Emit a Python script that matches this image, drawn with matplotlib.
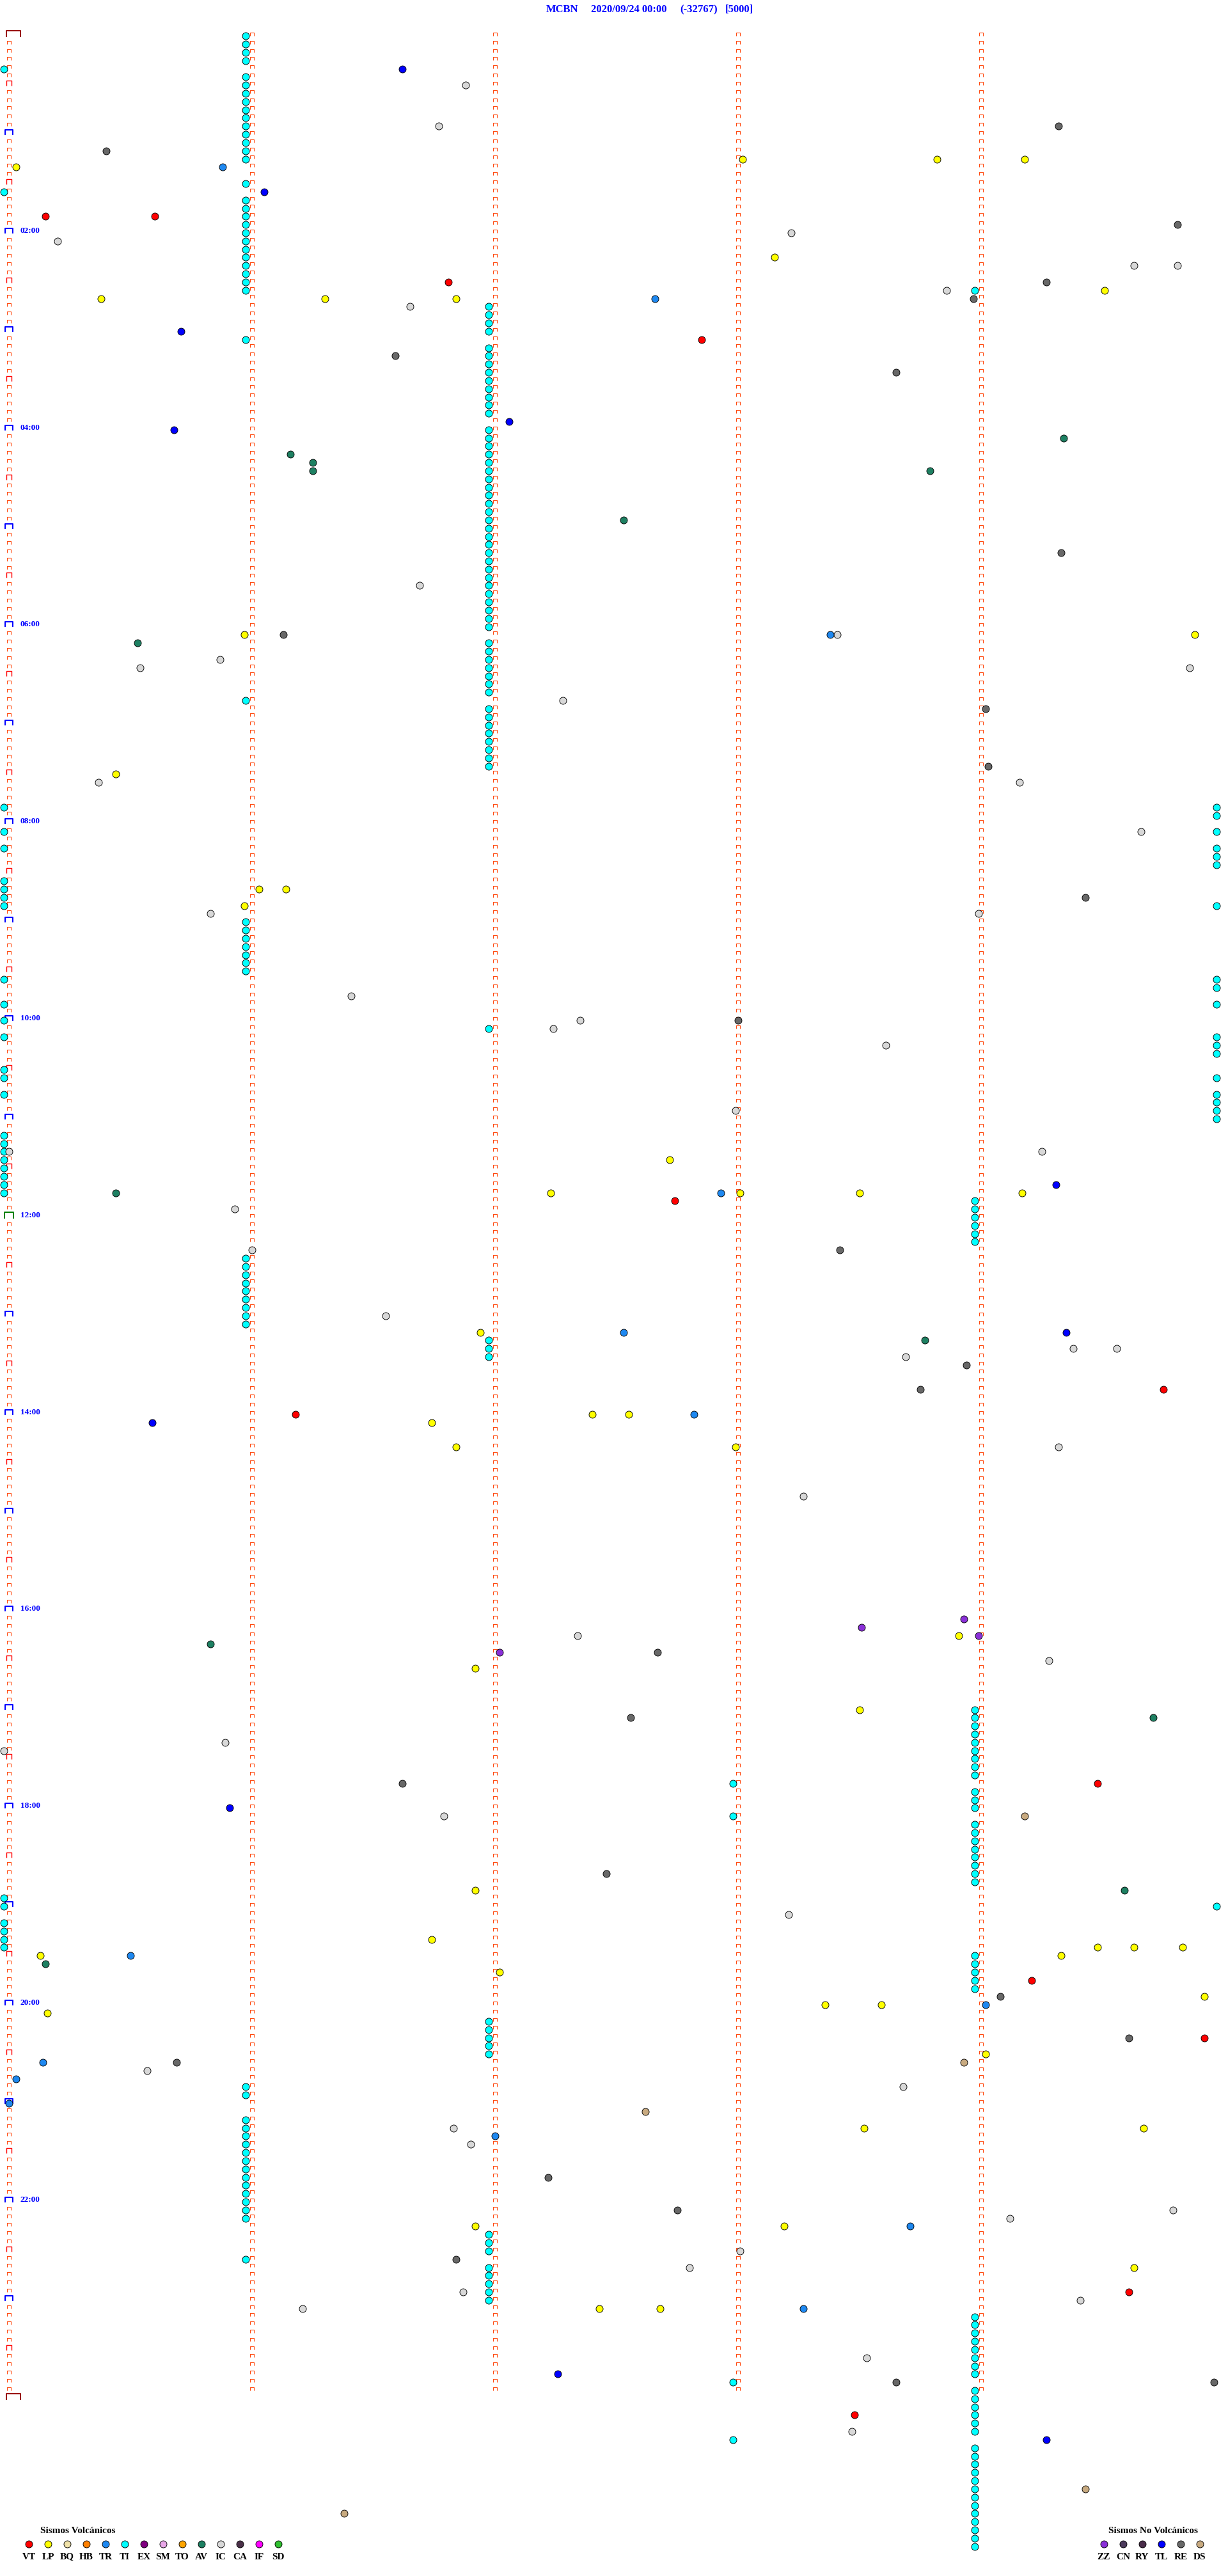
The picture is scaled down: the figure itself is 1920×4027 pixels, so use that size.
""" Daily event drum (5-minute lines) for station MCBN. """

import matplotlib
matplotlib.use("Agg")
from matplotlib import pyplot as plt
from matplotlib.path import Path

# ---------------------------------------------------------------- header
STATION = "MCBN"
DATE = "2020/09/24 00:00"
CLIP = "(-32767)"
GAIN = "[5000]"

N_LINES = 288          # 24 h of 5-minute lines
LINE_MIN = 5
HOUR_LABELS = ["02:00", "04:00", "06:00", "08:00", "10:00", "12:00",
               "14:00", "16:00", "18:00", "20:00", "22:00"]

# ---------------------------------------------------------------- legend
VOLC_CODES = ["VT", "LP", "BQ", "HB", "TR", "TI", "EX", "SM", "TO", "AV",
              "IC", "CA", "IF", "SD"]
VOLC_COLORS = ["#ff0000", "#ffff00", "#f0e2a8", "#ff8000", "#1e88f0",
               "#00ffff", "#800080", "#e8a8e8", "#ffa500", "#1e8062",
               "#d8d8d8", "#4a3048", "#ff00ff", "#30c030"]
NOVOLC_CODES = ["ZZ", "CN", "RY", "TL", "RE", "DS"]
NOVOLC_COLORS = ["#8a30d8", "#4c3a5c", "#4a2d4a", "#0000ff", "#686868",
                 "#c8aa80"]

# ---------------------------------------------------------------- events
# (line index, minute within the 5-minute line)
VT = [(22, 0.17), (22, 0.62), (30, 1.83), (37, 2.87), (142, 2.76),
      (165, 4.77), (168, 1.20), (213, 4.50), (237, 4.23), (244, 4.94),
      (275, 4.63), (290, 3.50)]

LP = [(15, 3.04), (15, 3.84), (15, 4.20), (16, 0.05), (27, 3.17),
      (31, 4.53), (32, 0.40), (32, 1.32), (32, 1.86), (73, 0.99),
      (73, 4.90), (90, 0.46), (104, 1.05), (104, 1.16), (106, 0.99),
      (137, 2.74), (141, 2.25), (141, 3.03), (141, 3.52), (141, 4.19),
      (158, 1.96), (168, 2.42), (168, 2.57), (169, 1.76), (172, 1.86),
      (172, 3.01), (195, 3.93), (199, 1.94), (204, 3.52), (226, 1.94),
      (232, 1.76), (233, 4.50), (233, 4.65), (233, 4.85), (234, 0.15),
      (234, 4.35), (236, 2.04), (239, 4.94), (240, 3.38), (240, 3.61),
      (241, 0.18), (246, 4.04), (255, 3.54), (255, 4.69), (267, 1.94),
      (267, 3.21), (272, 4.65), (277, 2.45), (277, 2.70)]

TR = [(16, 0.90), (32, 2.68), (73, 3.40), (141, 2.95), (158, 2.55),
      (168, 2.84), (234, 0.52), (240, 4.04), (247, 0.16), (249, 0.05),
      (252, 0.02), (256, 2.02), (267, 3.73), (277, 3.29)]

# TI tremor, listed as lines per minute mark
TI_M0 = [4, 19, 94, 97, 99, 103, 104, 105, 106, 115, 118, 120, 122, 126,
         127, 129, 134, 135, 136, 137, 138, 139, 140, 141, 227, 228, 230,
         231, 232, 233]
TI_M1 = [0, 1, 2, 3, 5, 6, 7, 8, 9, 10, 11, 12, 13, 14, 15, 18, 20, 21, 22,
         23, 24, 25, 26, 27, 28, 29, 30, 31, 37, 81, 108, 109, 110, 111,
         112, 113, 114, 149, 150, 151, 152, 153, 154, 155, 156, 157, 250,
         251, 254, 255, 256, 257, 258, 259, 260, 261, 262, 263, 264, 265,
         266, 271]
TI_M2 = [33, 34, 35, 36, 38, 39, 40, 41, 42, 43, 44, 45, 46, 48, 49, 50, 51,
         52, 53, 54, 55, 56, 57, 58, 59, 60, 61, 62, 63, 64, 65, 66, 67, 68,
         69, 70, 71, 72, 74, 75, 76, 77, 78, 79, 80, 82, 83, 84, 85, 86, 87,
         88, 89, 121, 159, 160, 161, 242, 243, 244, 245, 246, 268, 269, 270,
         272, 273, 274, 275, 276]
TI_M3 = [213, 217, 286, 293]
TI_M4 = [31, 142, 143, 144, 145, 146, 147, 204, 205, 206, 207, 208, 209,
         210, 211, 212, 214, 215, 216, 218, 219, 220, 221, 222, 223, 224,
         225, 234, 235, 236, 237, 238, 278, 279, 280, 281, 282, 283, 284,
         285, 287, 288, 289, 290, 291, 292, 294, 295, 296, 297, 298, 299,
         300, 301, 302, 303, 304, 305, 306]
TI_M5 = [94, 95, 97, 99, 100, 101, 106, 115, 116, 118, 122, 123, 124, 127,
         129, 130, 131, 132, 228]

AV = [(49, 4.36), (51, 1.18), (52, 1.27), (53, 1.27), (53, 3.81),
      (59, 2.55), (74, 0.55), (141, 0.46), (159, 3.79), (196, 0.85),
      (205, 4.73), (226, 4.61), (235, 0.17)]

IC = [(6, 1.90), (11, 1.79), (24, 3.24), (25, 0.22), (28, 4.65),
      (28, 4.83), (31, 3.88), (33, 1.67), (67, 1.71), (73, 3.43),
      (76, 0.89), (77, 0.56), (77, 4.88), (81, 2.30), (91, 0.39),
      (91, 4.18), (97, 4.68), (107, 0.85), (107, 4.01), (117, 1.43),
      (120, 2.37), (121, 2.26), (123, 3.63), (131, 3.01), (136, 0.02),
      (136, 4.27), (143, 0.95), (148, 1.02), (156, 1.57), (160, 4.40),
      (160, 4.58), (161, 3.71), (172, 4.34), (178, 3.29), (195, 2.36),
      (198, 4.30), (208, 0.91), (209, 0.00), (217, 1.81), (229, 3.23),
      (248, 0.59), (250, 3.70), (255, 1.85), (257, 1.92), (265, 4.81),
      (266, 4.14), (270, 3.03), (272, 2.82), (275, 1.89), (276, 4.43),
      (277, 1.23), (283, 3.55), (292, 3.49)]

RE = [(11, 4.34), (14, 0.42), (23, 4.83), (30, 4.29), (32, 3.99),
      (39, 1.61), (41, 3.67), (63, 4.35), (73, 1.15), (82, 4.04),
      (89, 4.05), (105, 4.45), (120, 3.02), (148, 3.44), (162, 3.96),
      (165, 3.77), (197, 2.69), (205, 2.58), (213, 1.64), (224, 2.48),
      (239, 4.10), (244, 4.63), (247, 0.71), (261, 2.24), (265, 2.77),
      (271, 1.86), (286, 3.67), (286, 4.98)]

TL = [(4, 1.64), (19, 1.07), (36, 0.73), (47, 2.08), (48, 0.70),
      (140, 4.33), (158, 4.37), (169, 0.61), (216, 0.93), (285, 2.28),
      (293, 4.29)]

ZZ = [(193, 3.95), (194, 3.53), (195, 4.01), (197, 2.04)]

DS = [(217, 4.20), (247, 3.95), (253, 2.64), (299, 4.45), (302, 1.40)]


def bracket(w, h):
    """Open 'n' shaped marker path."""
    return Path([(-w / 2, -h / 2), (-w / 2, h / 2), (w / 2, h / 2),
                 (w / 2, -h / 2)],
                [Path.MOVETO, Path.LINETO, Path.LINETO, Path.LINETO])


PX = 0.72   # points per pixel at dpi 100
FONT = "Liberation Serif"

fig = plt.figure(figsize=(19.2, 40.27), dpi=100)
ax = fig.add_axes([0, 0, 1, 1])
ax.set_axis_off()
# x in minutes inside a line, y in line index (pixel geometry of the drum)
ax.set_xlim(-6 / 380, 1914 / 380)
ax.set_ylim((4027 - 53) / 12.825, -53 / 12.825)

# ---- minute marks
small = bracket(6, 5)
colors = {"small": "#ff4a10", "half": "#ff0000", "hour": "#0000ff",
          "noon": "#008000", "day": "#990000"}
mark_kw = dict(ls="none", mfc="none", zorder=1, antialiased=False)
for k in range(1, LINE_MIN):
    ax.plot([k + 0.02] * N_LINES, range(N_LINES), marker=small,
            ms=6 * PX, mec=colors["small"], mew=1.1 * PX, **mark_kw)

rows_small = [r for r in range(1, N_LINES) if r % 6]
rows_half = [r for r in range(1, N_LINES) if r % 6 == 0 and r % 12]
rows_hour = [r for r in range(12, N_LINES, 12) if r != 144]
ax.plot([0.02] * len(rows_small), rows_small, marker=small,
        ms=6 * PX, mec=colors["small"], mew=1.1 * PX, **mark_kw)
ax.plot([0.02] * len(rows_half), rows_half, marker=bracket(8, 8),
        ms=8.5 * PX, mec=colors["half"], mew=1.4 * PX, **mark_kw)
ax.plot([0.02] * len(rows_hour), rows_hour, marker=bracket(12, 8),
        ms=12 * PX, mec=colors["hour"], mew=2.0 * PX, **mark_kw)
ax.plot([0.02], [144], marker=bracket(14, 10),
        ms=14 * PX, mec=colors["noon"], mew=2.0 * PX, **mark_kw)
ax.plot([0.04, 0.04], [0, N_LINES], marker=bracket(22, 10),
        ms=22 * PX, mec=colors["day"], mew=2.0 * PX, **mark_kw)

for lbl in HOUR_LABELS:
    row = int(lbl[:2]) * 12
    ax.text(26 / 380, row, lbl, color="#0000ff", fontsize=9.5,
            fontweight="bold", family=FONT, ha="left", va="center")

# ---- events
ti = ([(r, 0.0) for r in TI_M0] + [(r, 0.995) for r in TI_M1]
      + [(r, 1.995) for r in TI_M2] + [(r, 3.0) for r in TI_M3]
      + [(r, 3.995) for r in TI_M4] + [(r, 4.99) for r in TI_M5])
events = {"TI": ti, "IC": IC, "RE": RE, "AV": AV, "TL": TL, "TR": TR,
          "ZZ": ZZ, "DS": DS, "LP": LP, "VT": VT}
palette = dict(zip(VOLC_CODES + NOVOLC_CODES, VOLC_COLORS + NOVOLC_COLORS))
for code, pts in events.items():
    rows = [p[0] + 0.25 for p in pts]
    mins = [p[1] for p in pts]
    ax.scatter(mins, rows, s=(11 * PX) ** 2, c=palette[code],
               edgecolors="black", linewidths=0.9 * PX, zorder=3)

# ---- header
for txt, xpx in zip([STATION, DATE, CLIP, GAIN], [854, 924, 1063, 1134]):
    fig.text(xpx / 1920, 1 - 15 / 4027, txt, color="#0000ff", fontsize=12,
             fontweight="bold", family=FONT, ha="left", va="center")


# ---- legends
def legend(codes, cols, x0, title_x, step=30):
    fig.text(title_x / 1920, 1 - 3957 / 4027, "Sismos " + codes[0],
             fontsize=11, fontweight="bold", family=FONT, ha="left",
             va="center")
    for i, (c, col) in enumerate(zip(codes[1], cols)):
        xf = (x0 + i * step) / 1920
        ax.scatter([xf], [1 - 3977 / 4027], s=(11 * PX) ** 2, c=col,
                   edgecolors="black", linewidths=0.9 * PX,
                   transform=fig.transFigure, clip_on=False, zorder=3)
        fig.text(xf, 1 - 3997 / 4027, c, fontsize=11, fontweight="bold",
                 family=FONT, ha="center", va="center")


legend(("Volcánicos", VOLC_CODES), VOLC_COLORS, 45, 63)
legend(("No Volcánicos", NOVOLC_CODES), NOVOLC_COLORS, 1726, 1733)

fig.savefig("out.png", dpi=100)
